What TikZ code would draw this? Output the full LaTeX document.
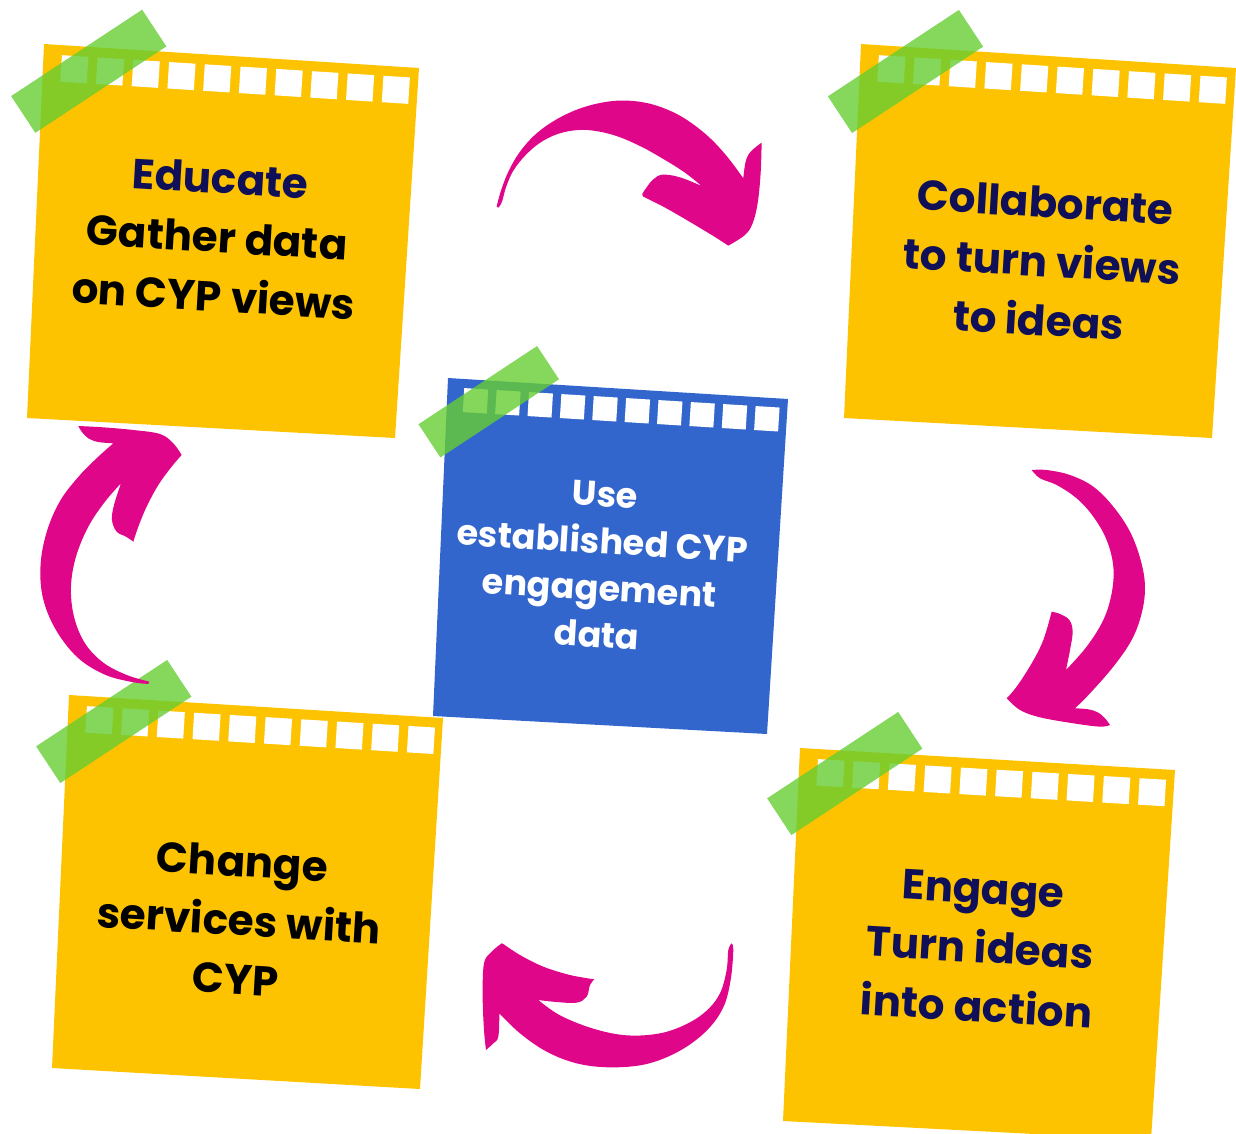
\documentclass[tikz,border=0pt]{standalone}
\usepackage{fontspec}
\setmainfont{Poppins}
\definecolor{noteyellow}{RGB}{253,195,0}
\definecolor{noteblue}{RGB}{51,102,204}
\definecolor{tapegreen}{RGB}{103,206,51}
\definecolor{arrowpink}{RGB}{224,6,138}
\definecolor{navy}{RGB}{16,16,88}
\tikzset{
  yellownote/.style={fill=noteyellow},
  bluenote/.style={fill=noteblue},
  tapestrip/.style={fill=tapegreen, fill opacity=0.8},
  brush/.style={fill=arrowpink},
  hole/.style={fill=white},
  bigtext/.style={font=\bfseries\fontsize{42}{59}\selectfont, align=center, rotate=-3.4, inner sep=0pt},
  smalltext/.style={font=\bfseries\fontsize{35}{47}\selectfont, align=center, rotate=-3.5, inner sep=0pt, text=white},
  sm/.style={smooth, tension=0.6}
}
\newcommand\NoteHoles[3]{%
  \begin{scope}[shift={#1}, rotate=#2, scale=#3]
    \foreach \i in {0,...,9} {\fill[hole] ({18.6+\i*35.8},10) rectangle ++(26.5,26.5);}
  \end{scope}}
\newcommand\NoteTape[2]{%
  \begin{scope}[shift={#1}, rotate=33.4, scale=#2]
    \fill[tapestrip] (-78.5,-22) rectangle (78.5,22);
  \end{scope}}
\begin{document}
\begin{tikzpicture}[x=1pt,y=-1pt]
\useasboundingbox (0,0) rectangle (1236,1133);
\clip (0,0) rectangle (1236,1133);

% notes
\fill[yellownote] (44,44) -- (419,68) -- (395,438) -- (27,418) -- cycle;
\NoteHoles{(44,44)}{-3.66}{1}
\fill[yellownote] (861,44) -- (1236,68) -- (1212,438) -- (844,418) -- cycle;
\NoteHoles{(861,44)}{-3.66}{1}
\fill[yellownote] (800,748) -- (1175,770) -- (1151,1140) -- (783,1121) -- cycle;
\NoteHoles{(800,748)}{-3.4}{1}
\fill[yellownote] (69,695) -- (443,718) -- (420,1089) -- (52,1068) -- cycle;
\NoteHoles{(69,695)}{-3.52}{1}
\fill[bluenote] (448,378) -- (788,399) -- (767,734) -- (433,716) -- cycle;
\NoteHoles{(448,378)}{-3.53}{0.906}

% tapes
\NoteTape{(88.75,71.25)}{1}
\NoteTape{(905.5,71.5)}{1}
\NoteTape{(844.75,773.5)}{1}
\NoteTape{(113.75,721.5)}{1}
\NoteTape{(488.75,401.75)}{0.905}

% texts
\node[bigtext, text=black] (n1) at (217,237) {\textcolor{navy}{Educate}\\Gather data\\on CYP views};
\node[bigtext, text=navy] (n2) at (1042,261) {Collaborate\\to turn views\\to ideas};
\node[smalltext] (n3) at (601,565) {Use\\established CYP\\engagement\\data};
\node[bigtext, text=navy] (n4) at (980,948) {Engage\\Turn ideas\\into action};
\node[bigtext, text=black] (n5) at (239,920) {Change\\services with\\CYP};

% arrows
\begin{scope}[shift={(480,80)}, scale=0.3333]
\fill[brush] plot[sm] coordinates {(50,380) (62,335) (85,275) (120,215) (170,160) (235,115) (310,82) (390,64) (460,63) (530,77) (605,110) (680,165) (740,228) (790,295)}
  -- plot[sm] coordinates {(790,295) (797,245) (812,215) (845,188)}
  -- plot[sm] coordinates {(845,188) (842,280) (833,370) (818,430) (795,465) (745,497)}
  -- plot[sm] coordinates {(745,497) (700,468) (620,420) (550,380) (490,350)}
  -- plot[sm] coordinates {(490,350) (487,342) (500,322) (520,298) (548,284) (600,292) (665,318)}
  -- plot[sm] coordinates {(665,318) (615,278) (555,240) (480,198) (400,165) (320,150) (250,157) (190,182) (140,222) (100,272) (78,322) (66,365) (55,383)}
  -- cycle;
\end{scope}
\begin{scope}[shift={(990,460)}, scale=0.3333]
\fill[brush] plot[sm] coordinates {(125,30) (170,30) (240,45) (310,80) (370,140) (420,215) (452,300) (465,380) (455,460) (425,540) (370,620) (300,700) (255,745)}
  -- plot[sm] coordinates {(255,745) (295,748) (325,758) (345,775) (360,795)}
  -- plot[sm] coordinates {(360,795) (330,800) (250,790) (150,772) (90,750) (50,715)}
  -- plot[sm] coordinates {(50,715) (80,680) (125,610) (160,540) (185,455)}
  -- plot[sm] coordinates {(185,455) (210,462) (238,480) (248,515) (240,570) (228,630)}
  -- plot[sm] coordinates {(228,630) (290,560) (340,480) (365,400) (370,320) (350,240) (310,170) (260,115) (200,75) (150,55) (125,30)}
  -- cycle;
\end{scope}
\begin{scope}[shift={(460,930)}, scale=0.3333]
\fill[brush] plot[sm] coordinates {(125,40) (95,65) (72,100) (68,200) (72,300) (78,360)}
  -- plot[sm] coordinates {(78,360) (100,340) (115,320) (118,250)}
  -- plot[sm] coordinates {(118,250) (180,310) (260,365) (350,400) (450,412) (560,402) (660,362) (740,302) (790,232) (812,150) (820,60) (815,40)}
  -- plot[sm] coordinates {(815,40) (805,60) (800,120) (780,190) (740,242) (680,282) (600,310) (500,316) (400,296) (300,256) (235,210)}
  -- plot[sm] coordinates {(235,210) (290,216) (350,218) (380,200) (390,165) (403,148)}
  -- plot[sm] coordinates {(403,148) (330,135) (250,110) (180,75) (130,42)}
  -- cycle;
\end{scope}
\begin{scope}[shift={(20,410)}, scale=0.3333]
\fill[brush] plot[sm] coordinates {(385,822) (330,815) (250,792) (170,740) (105,655) (68,560) (62,460) (82,360) (122,270) (180,195) (235,140) (280,100)}
  -- plot[sm] coordinates {(280,100) (235,96) (205,85) (185,65) (175,48)}
  -- plot[sm] coordinates {(175,48) (250,52) (340,60) (420,72) (460,100) (485,135)}
  -- plot[sm] coordinates {(485,135) (455,170) (415,225) (380,290) (355,350) (340,395)}
  -- plot[sm] coordinates {(340,395) (318,380) (290,365) (276,330) (282,285) (303,220)}
  -- plot[sm] coordinates {(303,220) (255,275) (205,350) (168,440) (153,530) (162,620) (195,700) (250,758) (320,795) (388,815)}
  -- cycle;
\end{scope}
\end{tikzpicture}
\end{document}
